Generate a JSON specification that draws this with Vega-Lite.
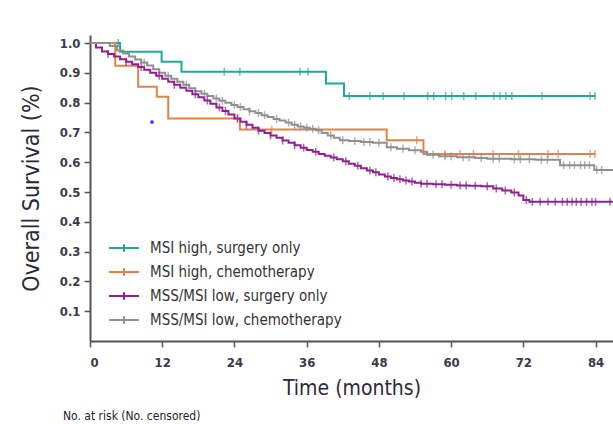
{
  "$schema": "https://vega.github.io/schema/vega-lite/v6.json",
  "width": 523,
  "height": 306,
  "autosize": {"type": "none"},
  "padding": {"left": 90, "top": 35, "right": 0, "bottom": 83},
  "background": "white",
  "title": {"text": "No. at risk (No. censored)", "orient": "bottom", "anchor": "start", "frame": "group", "dx": -27, "offset": 13, "fontSize": 12, "fontWeight": "normal", "font": "Liberation Sans Narrow, DejaVu Sans Condensed, sans-serif", "color": "#222"},
  "config": {
    "view": {"stroke": null},
    "axis": {"grid": false, "labelFont": "Liberation Sans Narrow, DejaVu Sans Condensed, sans-serif", "titleFont": "Liberation Sans Narrow, DejaVu Sans Condensed, sans-serif", "labelFontWeight": "bold", "labelFontSize": 13, "labelColor": "#3a3a48", "titleFontSize": 21, "titleFontWeight": "normal", "titleColor": "#2a2a38", "domainColor": "#555", "domainWidth": 2, "tickColor": "#555", "tickWidth": 1.5, "tickSize": 6},
    "legend": {"labelFont": "Liberation Sans Narrow, DejaVu Sans Condensed, sans-serif", "labelFontSize": 15, "labelColor": "#333", "labelLimit": 500}
  },
  "datasets": {
    "curves": [
      {"g": "MSI high, surgery only", "t": 0, "s": 1.0},
      {"g": "MSI high, surgery only", "t": 5.0, "s": 0.971},
      {"g": "MSI high, surgery only", "t": 11.9, "s": 0.937},
      {"g": "MSI high, surgery only", "t": 15.2, "s": 0.904},
      {"g": "MSI high, surgery only", "t": 39.2, "s": 0.864},
      {"g": "MSI high, surgery only", "t": 42.2, "s": 0.822},
      {"g": "MSI high, surgery only", "t": 84.0, "s": 0.822},
      {"g": "MSI high, chemotherapy", "t": 0, "s": 1.0},
      {"g": "MSI high, chemotherapy", "t": 4.2, "s": 0.924},
      {"g": "MSI high, chemotherapy", "t": 8.0, "s": 0.853},
      {"g": "MSI high, chemotherapy", "t": 11.1, "s": 0.82},
      {"g": "MSI high, chemotherapy", "t": 13.0, "s": 0.747},
      {"g": "MSI high, chemotherapy", "t": 24.9, "s": 0.71},
      {"g": "MSI high, chemotherapy", "t": 49.3, "s": 0.674},
      {"g": "MSI high, chemotherapy", "t": 55.4, "s": 0.628},
      {"g": "MSI high, chemotherapy", "t": 84.0, "s": 0.628},
      {"g": "MSS/MSI low, surgery only", "t": 0, "s": 1.0},
      {"g": "MSS/MSI low, surgery only", "t": 1, "s": 0.985},
      {"g": "MSS/MSI low, surgery only", "t": 2, "s": 0.972},
      {"g": "MSS/MSI low, surgery only", "t": 3, "s": 0.963},
      {"g": "MSS/MSI low, surgery only", "t": 4, "s": 0.955},
      {"g": "MSS/MSI low, surgery only", "t": 5, "s": 0.946},
      {"g": "MSS/MSI low, surgery only", "t": 6, "s": 0.937},
      {"g": "MSS/MSI low, surgery only", "t": 7, "s": 0.929},
      {"g": "MSS/MSI low, surgery only", "t": 8, "s": 0.92},
      {"g": "MSS/MSI low, surgery only", "t": 9, "s": 0.91},
      {"g": "MSS/MSI low, surgery only", "t": 10, "s": 0.9},
      {"g": "MSS/MSI low, surgery only", "t": 11, "s": 0.89},
      {"g": "MSS/MSI low, surgery only", "t": 12, "s": 0.88},
      {"g": "MSS/MSI low, surgery only", "t": 13, "s": 0.87},
      {"g": "MSS/MSI low, surgery only", "t": 14, "s": 0.86},
      {"g": "MSS/MSI low, surgery only", "t": 15, "s": 0.85},
      {"g": "MSS/MSI low, surgery only", "t": 16, "s": 0.84},
      {"g": "MSS/MSI low, surgery only", "t": 17, "s": 0.828},
      {"g": "MSS/MSI low, surgery only", "t": 18, "s": 0.818},
      {"g": "MSS/MSI low, surgery only", "t": 19, "s": 0.807},
      {"g": "MSS/MSI low, surgery only", "t": 20, "s": 0.796},
      {"g": "MSS/MSI low, surgery only", "t": 21, "s": 0.784},
      {"g": "MSS/MSI low, surgery only", "t": 22, "s": 0.772},
      {"g": "MSS/MSI low, surgery only", "t": 23, "s": 0.76},
      {"g": "MSS/MSI low, surgery only", "t": 24, "s": 0.747},
      {"g": "MSS/MSI low, surgery only", "t": 25, "s": 0.736},
      {"g": "MSS/MSI low, surgery only", "t": 26, "s": 0.726},
      {"g": "MSS/MSI low, surgery only", "t": 27, "s": 0.716},
      {"g": "MSS/MSI low, surgery only", "t": 28, "s": 0.706},
      {"g": "MSS/MSI low, surgery only", "t": 29, "s": 0.698},
      {"g": "MSS/MSI low, surgery only", "t": 30, "s": 0.69},
      {"g": "MSS/MSI low, surgery only", "t": 31, "s": 0.682},
      {"g": "MSS/MSI low, surgery only", "t": 32, "s": 0.673},
      {"g": "MSS/MSI low, surgery only", "t": 33, "s": 0.665},
      {"g": "MSS/MSI low, surgery only", "t": 34, "s": 0.657},
      {"g": "MSS/MSI low, surgery only", "t": 35, "s": 0.649},
      {"g": "MSS/MSI low, surgery only", "t": 36, "s": 0.641},
      {"g": "MSS/MSI low, surgery only", "t": 37, "s": 0.635},
      {"g": "MSS/MSI low, surgery only", "t": 38, "s": 0.628},
      {"g": "MSS/MSI low, surgery only", "t": 39, "s": 0.622},
      {"g": "MSS/MSI low, surgery only", "t": 40, "s": 0.616},
      {"g": "MSS/MSI low, surgery only", "t": 41, "s": 0.61},
      {"g": "MSS/MSI low, surgery only", "t": 42, "s": 0.603},
      {"g": "MSS/MSI low, surgery only", "t": 43, "s": 0.595},
      {"g": "MSS/MSI low, surgery only", "t": 44, "s": 0.588},
      {"g": "MSS/MSI low, surgery only", "t": 45, "s": 0.58},
      {"g": "MSS/MSI low, surgery only", "t": 46, "s": 0.572},
      {"g": "MSS/MSI low, surgery only", "t": 47, "s": 0.566},
      {"g": "MSS/MSI low, surgery only", "t": 48, "s": 0.559},
      {"g": "MSS/MSI low, surgery only", "t": 49, "s": 0.552},
      {"g": "MSS/MSI low, surgery only", "t": 50, "s": 0.547},
      {"g": "MSS/MSI low, surgery only", "t": 51, "s": 0.543},
      {"g": "MSS/MSI low, surgery only", "t": 52, "s": 0.539},
      {"g": "MSS/MSI low, surgery only", "t": 53, "s": 0.535},
      {"g": "MSS/MSI low, surgery only", "t": 54, "s": 0.531},
      {"g": "MSS/MSI low, surgery only", "t": 55, "s": 0.528},
      {"g": "MSS/MSI low, surgery only", "t": 57, "s": 0.526},
      {"g": "MSS/MSI low, surgery only", "t": 59, "s": 0.524},
      {"g": "MSS/MSI low, surgery only", "t": 61, "s": 0.522},
      {"g": "MSS/MSI low, surgery only", "t": 63, "s": 0.521},
      {"g": "MSS/MSI low, surgery only", "t": 65, "s": 0.519},
      {"g": "MSS/MSI low, surgery only", "t": 67, "s": 0.512},
      {"g": "MSS/MSI low, surgery only", "t": 68.5, "s": 0.505},
      {"g": "MSS/MSI low, surgery only", "t": 70, "s": 0.498},
      {"g": "MSS/MSI low, surgery only", "t": 71.2, "s": 0.488},
      {"g": "MSS/MSI low, surgery only", "t": 72, "s": 0.473},
      {"g": "MSS/MSI low, surgery only", "t": 73, "s": 0.467},
      {"g": "MSS/MSI low, surgery only", "t": 86.9, "s": 0.467},
      {"g": "MSS/MSI low, chemotherapy", "t": 0, "s": 1.0},
      {"g": "MSS/MSI low, chemotherapy", "t": 3.3, "s": 0.99},
      {"g": "MSS/MSI low, chemotherapy", "t": 4.5, "s": 0.975},
      {"g": "MSS/MSI low, chemotherapy", "t": 5.5, "s": 0.965},
      {"g": "MSS/MSI low, chemotherapy", "t": 6.5, "s": 0.955},
      {"g": "MSS/MSI low, chemotherapy", "t": 7.5, "s": 0.945},
      {"g": "MSS/MSI low, chemotherapy", "t": 8.5, "s": 0.935},
      {"g": "MSS/MSI low, chemotherapy", "t": 9.5, "s": 0.925},
      {"g": "MSS/MSI low, chemotherapy", "t": 10.5, "s": 0.912},
      {"g": "MSS/MSI low, chemotherapy", "t": 11.5, "s": 0.9},
      {"g": "MSS/MSI low, chemotherapy", "t": 12.5, "s": 0.89},
      {"g": "MSS/MSI low, chemotherapy", "t": 13.5, "s": 0.88},
      {"g": "MSS/MSI low, chemotherapy", "t": 14.5, "s": 0.87},
      {"g": "MSS/MSI low, chemotherapy", "t": 15.5, "s": 0.86},
      {"g": "MSS/MSI low, chemotherapy", "t": 16.5, "s": 0.848},
      {"g": "MSS/MSI low, chemotherapy", "t": 17.5, "s": 0.838},
      {"g": "MSS/MSI low, chemotherapy", "t": 18.5, "s": 0.83},
      {"g": "MSS/MSI low, chemotherapy", "t": 19.5, "s": 0.822},
      {"g": "MSS/MSI low, chemotherapy", "t": 20.5, "s": 0.814},
      {"g": "MSS/MSI low, chemotherapy", "t": 21.5, "s": 0.806},
      {"g": "MSS/MSI low, chemotherapy", "t": 22.5, "s": 0.8},
      {"g": "MSS/MSI low, chemotherapy", "t": 23.5, "s": 0.792},
      {"g": "MSS/MSI low, chemotherapy", "t": 24.5, "s": 0.785},
      {"g": "MSS/MSI low, chemotherapy", "t": 25.5, "s": 0.778},
      {"g": "MSS/MSI low, chemotherapy", "t": 26.5, "s": 0.771},
      {"g": "MSS/MSI low, chemotherapy", "t": 27.5, "s": 0.765},
      {"g": "MSS/MSI low, chemotherapy", "t": 28.5, "s": 0.758},
      {"g": "MSS/MSI low, chemotherapy", "t": 29.5, "s": 0.752},
      {"g": "MSS/MSI low, chemotherapy", "t": 30.5, "s": 0.745},
      {"g": "MSS/MSI low, chemotherapy", "t": 31.5, "s": 0.74},
      {"g": "MSS/MSI low, chemotherapy", "t": 32.5, "s": 0.733},
      {"g": "MSS/MSI low, chemotherapy", "t": 33.5, "s": 0.726},
      {"g": "MSS/MSI low, chemotherapy", "t": 34.5, "s": 0.72},
      {"g": "MSS/MSI low, chemotherapy", "t": 35.5, "s": 0.716},
      {"g": "MSS/MSI low, chemotherapy", "t": 36.5, "s": 0.712},
      {"g": "MSS/MSI low, chemotherapy", "t": 37.5, "s": 0.707},
      {"g": "MSS/MSI low, chemotherapy", "t": 38.5, "s": 0.698},
      {"g": "MSS/MSI low, chemotherapy", "t": 39.5, "s": 0.69},
      {"g": "MSS/MSI low, chemotherapy", "t": 40.5, "s": 0.682},
      {"g": "MSS/MSI low, chemotherapy", "t": 41.5, "s": 0.674},
      {"g": "MSS/MSI low, chemotherapy", "t": 43, "s": 0.671},
      {"g": "MSS/MSI low, chemotherapy", "t": 45, "s": 0.668},
      {"g": "MSS/MSI low, chemotherapy", "t": 47, "s": 0.665},
      {"g": "MSS/MSI low, chemotherapy", "t": 49.3, "s": 0.65},
      {"g": "MSS/MSI low, chemotherapy", "t": 51, "s": 0.645},
      {"g": "MSS/MSI low, chemotherapy", "t": 53, "s": 0.64},
      {"g": "MSS/MSI low, chemotherapy", "t": 55, "s": 0.635},
      {"g": "MSS/MSI low, chemotherapy", "t": 56, "s": 0.625},
      {"g": "MSS/MSI low, chemotherapy", "t": 58, "s": 0.62},
      {"g": "MSS/MSI low, chemotherapy", "t": 61, "s": 0.617},
      {"g": "MSS/MSI low, chemotherapy", "t": 64, "s": 0.614},
      {"g": "MSS/MSI low, chemotherapy", "t": 66, "s": 0.612},
      {"g": "MSS/MSI low, chemotherapy", "t": 70, "s": 0.61},
      {"g": "MSS/MSI low, chemotherapy", "t": 74, "s": 0.608},
      {"g": "MSS/MSI low, chemotherapy", "t": 78.1, "s": 0.59},
      {"g": "MSS/MSI low, chemotherapy", "t": 83.8, "s": 0.574},
      {"g": "MSS/MSI low, chemotherapy", "t": 86.9, "s": 0.574}
    ],
    "censor": [
      {"g": "MSI high, surgery only", "t": 4.7, "s": 1.0},
      {"g": "MSI high, surgery only", "t": 22.3, "s": 0.904},
      {"g": "MSI high, surgery only", "t": 24.9, "s": 0.904},
      {"g": "MSI high, surgery only", "t": 34.9, "s": 0.904},
      {"g": "MSI high, surgery only", "t": 36.2, "s": 0.904},
      {"g": "MSI high, surgery only", "t": 43.1, "s": 0.822},
      {"g": "MSI high, surgery only", "t": 46.5, "s": 0.822},
      {"g": "MSI high, surgery only", "t": 48.7, "s": 0.822},
      {"g": "MSI high, surgery only", "t": 52.2, "s": 0.822},
      {"g": "MSI high, surgery only", "t": 56.1, "s": 0.822},
      {"g": "MSI high, surgery only", "t": 57.1, "s": 0.822},
      {"g": "MSI high, surgery only", "t": 59.1, "s": 0.822},
      {"g": "MSI high, surgery only", "t": 60.1, "s": 0.822},
      {"g": "MSI high, surgery only", "t": 62.1, "s": 0.822},
      {"g": "MSI high, surgery only", "t": 64.1, "s": 0.822},
      {"g": "MSI high, surgery only", "t": 67.1, "s": 0.822},
      {"g": "MSI high, surgery only", "t": 68.1, "s": 0.822},
      {"g": "MSI high, surgery only", "t": 69.1, "s": 0.822},
      {"g": "MSI high, surgery only", "t": 70.1, "s": 0.822},
      {"g": "MSI high, surgery only", "t": 75.1, "s": 0.822},
      {"g": "MSI high, surgery only", "t": 83.1, "s": 0.822},
      {"g": "MSI high, surgery only", "t": 83.9, "s": 0.822},
      {"g": "MSI high, chemotherapy", "t": 24.5, "s": 0.747},
      {"g": "MSI high, chemotherapy", "t": 30.2, "s": 0.71},
      {"g": "MSI high, chemotherapy", "t": 54.3, "s": 0.674},
      {"g": "MSI high, chemotherapy", "t": 59.0, "s": 0.628},
      {"g": "MSI high, chemotherapy", "t": 61.5, "s": 0.628},
      {"g": "MSI high, chemotherapy", "t": 63.7, "s": 0.628},
      {"g": "MSI high, chemotherapy", "t": 67.0, "s": 0.628},
      {"g": "MSI high, chemotherapy", "t": 71.2, "s": 0.628},
      {"g": "MSI high, chemotherapy", "t": 76.1, "s": 0.628},
      {"g": "MSI high, chemotherapy", "t": 77.8, "s": 0.628},
      {"g": "MSI high, chemotherapy", "t": 83.1, "s": 0.628},
      {"g": "MSI high, chemotherapy", "t": 83.9, "s": 0.628},
      {"g": "MSS/MSI low, surgery only", "t": 3, "s": 0.963},
      {"g": "MSS/MSI low, surgery only", "t": 6, "s": 0.937},
      {"g": "MSS/MSI low, surgery only", "t": 8.5, "s": 0.92},
      {"g": "MSS/MSI low, surgery only", "t": 11.5, "s": 0.89},
      {"g": "MSS/MSI low, surgery only", "t": 14, "s": 0.86},
      {"g": "MSS/MSI low, surgery only", "t": 17.5, "s": 0.828},
      {"g": "MSS/MSI low, surgery only", "t": 19.5, "s": 0.807},
      {"g": "MSS/MSI low, surgery only", "t": 21.5, "s": 0.784},
      {"g": "MSS/MSI low, surgery only", "t": 22.5, "s": 0.772},
      {"g": "MSS/MSI low, surgery only", "t": 24.5, "s": 0.747},
      {"g": "MSS/MSI low, surgery only", "t": 26, "s": 0.726},
      {"g": "MSS/MSI low, surgery only", "t": 28, "s": 0.706},
      {"g": "MSS/MSI low, surgery only", "t": 30, "s": 0.69},
      {"g": "MSS/MSI low, surgery only", "t": 32, "s": 0.673},
      {"g": "MSS/MSI low, surgery only", "t": 34, "s": 0.657},
      {"g": "MSS/MSI low, surgery only", "t": 35.5, "s": 0.649},
      {"g": "MSS/MSI low, surgery only", "t": 37.5, "s": 0.635},
      {"g": "MSS/MSI low, surgery only", "t": 40.5, "s": 0.616},
      {"g": "MSS/MSI low, surgery only", "t": 42.5, "s": 0.603},
      {"g": "MSS/MSI low, surgery only", "t": 44.5, "s": 0.588},
      {"g": "MSS/MSI low, surgery only", "t": 46.5, "s": 0.572},
      {"g": "MSS/MSI low, surgery only", "t": 47.5, "s": 0.566},
      {"g": "MSS/MSI low, surgery only", "t": 49.5, "s": 0.552},
      {"g": "MSS/MSI low, surgery only", "t": 50.5, "s": 0.547},
      {"g": "MSS/MSI low, surgery only", "t": 51.5, "s": 0.543},
      {"g": "MSS/MSI low, surgery only", "t": 52.5, "s": 0.539},
      {"g": "MSS/MSI low, surgery only", "t": 53.5, "s": 0.535},
      {"g": "MSS/MSI low, surgery only", "t": 55, "s": 0.528},
      {"g": "MSS/MSI low, surgery only", "t": 56, "s": 0.528},
      {"g": "MSS/MSI low, surgery only", "t": 57.5, "s": 0.526},
      {"g": "MSS/MSI low, surgery only", "t": 58.5, "s": 0.526},
      {"g": "MSS/MSI low, surgery only", "t": 60, "s": 0.524},
      {"g": "MSS/MSI low, surgery only", "t": 61.5, "s": 0.522},
      {"g": "MSS/MSI low, surgery only", "t": 62.5, "s": 0.522},
      {"g": "MSS/MSI low, surgery only", "t": 64, "s": 0.521},
      {"g": "MSS/MSI low, surgery only", "t": 66, "s": 0.519},
      {"g": "MSS/MSI low, surgery only", "t": 67.5, "s": 0.512},
      {"g": "MSS/MSI low, surgery only", "t": 69, "s": 0.505},
      {"g": "MSS/MSI low, surgery only", "t": 70.5, "s": 0.498},
      {"g": "MSS/MSI low, surgery only", "t": 72.5, "s": 0.473},
      {"g": "MSS/MSI low, surgery only", "t": 73.5, "s": 0.467},
      {"g": "MSS/MSI low, surgery only", "t": 74.8, "s": 0.467},
      {"g": "MSS/MSI low, surgery only", "t": 76.1, "s": 0.467},
      {"g": "MSS/MSI low, surgery only", "t": 77.3, "s": 0.467},
      {"g": "MSS/MSI low, surgery only", "t": 78.5, "s": 0.467},
      {"g": "MSS/MSI low, surgery only", "t": 79.3, "s": 0.467},
      {"g": "MSS/MSI low, surgery only", "t": 80.1, "s": 0.467},
      {"g": "MSS/MSI low, surgery only", "t": 80.8, "s": 0.467},
      {"g": "MSS/MSI low, surgery only", "t": 81.6, "s": 0.467},
      {"g": "MSS/MSI low, surgery only", "t": 82.5, "s": 0.467},
      {"g": "MSS/MSI low, surgery only", "t": 83.4, "s": 0.467},
      {"g": "MSS/MSI low, surgery only", "t": 84.0, "s": 0.467},
      {"g": "MSS/MSI low, surgery only", "t": 86.4, "s": 0.467},
      {"g": "MSS/MSI low, chemotherapy", "t": 9, "s": 0.935},
      {"g": "MSS/MSI low, chemotherapy", "t": 13, "s": 0.89},
      {"g": "MSS/MSI low, chemotherapy", "t": 16, "s": 0.86},
      {"g": "MSS/MSI low, chemotherapy", "t": 19, "s": 0.83},
      {"g": "MSS/MSI low, chemotherapy", "t": 21, "s": 0.814},
      {"g": "MSS/MSI low, chemotherapy", "t": 22, "s": 0.806},
      {"g": "MSS/MSI low, chemotherapy", "t": 24, "s": 0.792},
      {"g": "MSS/MSI low, chemotherapy", "t": 25, "s": 0.785},
      {"g": "MSS/MSI low, chemotherapy", "t": 26.5, "s": 0.771},
      {"g": "MSS/MSI low, chemotherapy", "t": 28, "s": 0.765},
      {"g": "MSS/MSI low, chemotherapy", "t": 29, "s": 0.758},
      {"g": "MSS/MSI low, chemotherapy", "t": 31, "s": 0.745},
      {"g": "MSS/MSI low, chemotherapy", "t": 33, "s": 0.733},
      {"g": "MSS/MSI low, chemotherapy", "t": 34, "s": 0.726},
      {"g": "MSS/MSI low, chemotherapy", "t": 35, "s": 0.72},
      {"g": "MSS/MSI low, chemotherapy", "t": 36, "s": 0.716},
      {"g": "MSS/MSI low, chemotherapy", "t": 37, "s": 0.712},
      {"g": "MSS/MSI low, chemotherapy", "t": 38, "s": 0.707},
      {"g": "MSS/MSI low, chemotherapy", "t": 40, "s": 0.69},
      {"g": "MSS/MSI low, chemotherapy", "t": 42, "s": 0.674},
      {"g": "MSS/MSI low, chemotherapy", "t": 44, "s": 0.671},
      {"g": "MSS/MSI low, chemotherapy", "t": 45.5, "s": 0.668},
      {"g": "MSS/MSI low, chemotherapy", "t": 46.5, "s": 0.668},
      {"g": "MSS/MSI low, chemotherapy", "t": 48, "s": 0.665},
      {"g": "MSS/MSI low, chemotherapy", "t": 50, "s": 0.65},
      {"g": "MSS/MSI low, chemotherapy", "t": 52, "s": 0.645},
      {"g": "MSS/MSI low, chemotherapy", "t": 54, "s": 0.64},
      {"g": "MSS/MSI low, chemotherapy", "t": 57, "s": 0.625},
      {"g": "MSS/MSI low, chemotherapy", "t": 59, "s": 0.62},
      {"g": "MSS/MSI low, chemotherapy", "t": 60, "s": 0.62},
      {"g": "MSS/MSI low, chemotherapy", "t": 62, "s": 0.617},
      {"g": "MSS/MSI low, chemotherapy", "t": 63, "s": 0.617},
      {"g": "MSS/MSI low, chemotherapy", "t": 65, "s": 0.614},
      {"g": "MSS/MSI low, chemotherapy", "t": 67, "s": 0.612},
      {"g": "MSS/MSI low, chemotherapy", "t": 68, "s": 0.612},
      {"g": "MSS/MSI low, chemotherapy", "t": 70.5, "s": 0.61},
      {"g": "MSS/MSI low, chemotherapy", "t": 71.5, "s": 0.61},
      {"g": "MSS/MSI low, chemotherapy", "t": 73, "s": 0.61},
      {"g": "MSS/MSI low, chemotherapy", "t": 75, "s": 0.608},
      {"g": "MSS/MSI low, chemotherapy", "t": 76, "s": 0.608},
      {"g": "MSS/MSI low, chemotherapy", "t": 78.7, "s": 0.59},
      {"g": "MSS/MSI low, chemotherapy", "t": 79.7, "s": 0.59},
      {"g": "MSS/MSI low, chemotherapy", "t": 80.5, "s": 0.59},
      {"g": "MSS/MSI low, chemotherapy", "t": 81.5, "s": 0.59},
      {"g": "MSS/MSI low, chemotherapy", "t": 82.2, "s": 0.59},
      {"g": "MSS/MSI low, chemotherapy", "t": 83, "s": 0.59},
      {"g": "MSS/MSI low, chemotherapy", "t": 84.2, "s": 0.574},
      {"g": "MSS/MSI low, chemotherapy", "t": 85, "s": 0.574}
    ],
    "spot": [{"t": 10.3, "s": 0.735}]
  },
  "encoding": {
    "x": {"field": "t", "type": "quantitative", "scale": {"domain": [0, 86.9], "nice": false, "zero": false},
      "axis": {"values": [0, 12, 24, 36, 48, 60, 72, 84], "title": "Time (months)", "labelPadding": 9, "titlePadding": 8}},
    "y": {"field": "s", "type": "quantitative", "scale": {"domain": [0, 1.027], "nice": false},
      "axis": {"values": [0.1, 0.2, 0.3, 0.4, 0.5, 0.6, 0.7, 0.8, 0.9, 1.0], "format": ".1f", "title": "Overall Survival (%)", "titleFontSize": 23, "labelPadding": 4, "titlePadding": 16}}
  },
  "layer": [
    {
      "data": {"name": "curves"},
      "mark": {"type": "line", "interpolate": "step-after", "strokeWidth": 2},
      "encoding": {
        "color": {"field": "g", "type": "nominal",
          "scale": {"domain": ["MSI high, surgery only", "MSI high, chemotherapy", "MSS/MSI low, surgery only", "MSS/MSI low, chemotherapy"], "range": ["#22a898", "#e2824a", "#8e2090", "#8f8f8f"]},
          "legend": {"title": null, "orient": "none", "legendX": 18, "legendY": 197, "symbolType": "M-1,0H1M0,-0.25V0.25", "symbolSize": 900, "symbolStrokeWidth": 2, "symbolFillColor": "transparent", "labelOffset": 10, "rowPadding": -6, "labelLimit": 500}}
      }
    },
    {
      "data": {"name": "censor"},
      "mark": {"type": "tick", "orient": "vertical", "size": 8, "thickness": 1.5},
      "encoding": {
        "color": {"field": "g", "type": "nominal", "legend": null}
      }
    },
    {
      "data": {"name": "spot"},
      "mark": {"type": "circle", "size": 14, "color": "#2a3cff", "opacity": 1}
    }
  ]
}
